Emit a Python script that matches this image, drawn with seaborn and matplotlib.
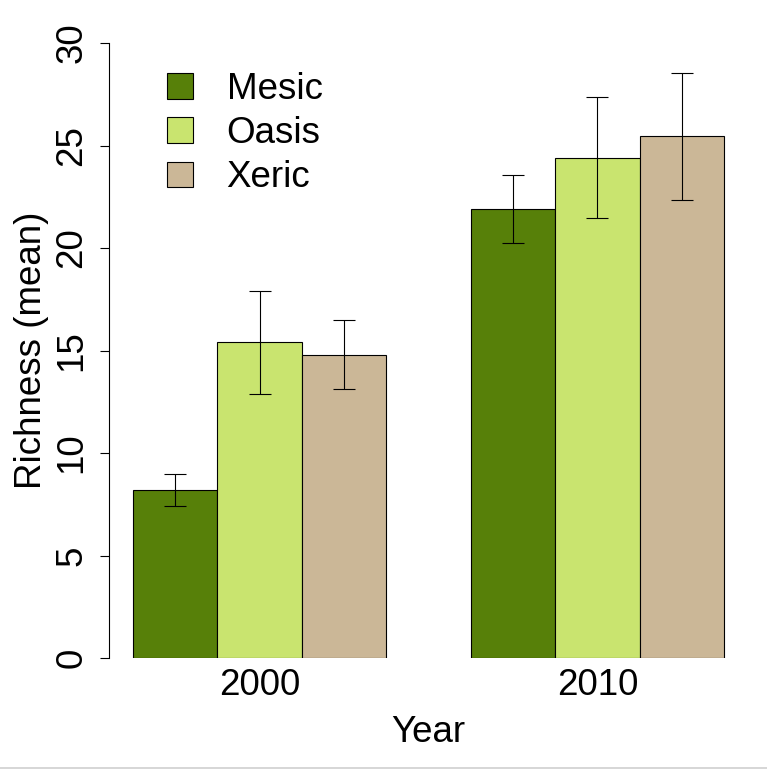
import numpy as np
import pandas as pd
import matplotlib
matplotlib.use("Agg")
import matplotlib.pyplot as plt
from matplotlib.patches import Patch
from matplotlib.lines import Line2D
import seaborn as sns

sns.set_style("white")
plt.rcParams['font.family'] = ['Liberation Sans', 'DejaVu Sans']
plt.rcParams['text.color'] = 'black'
plt.rcParams['axes.labelcolor'] = 'black'
plt.rcParams['xtick.color'] = 'black'
plt.rcParams['ytick.color'] = 'black'

years = ["2000", "2010"]
sites = ["Mesic", "Oasis", "Xeric"]
mean_2000 = [8.2, 15.4, 14.8]
mean_2010 = [21.9, 24.4, 25.45]
se_2000 = [0.78, 2.5, 1.7]
se_2010 = [1.68, 2.95, 3.1]
site_colors = ["#578009", "#C9E46F", "#CBB797"]

df = pd.DataFrame({
    "year": [years[0]] * 3 + [years[1]] * 3,
    "site": sites * 2,
    "richness": mean_2000 + mean_2010,
    "se": se_2000 + se_2010,
})

fs = 26.5
fig = plt.figure(figsize=(7.67, 7.69), dpi=100)
ax = fig.add_axes([0.14264, 0.14434, 0.83207, 0.83973])

sns.barplot(data=df, x="year", y="richness", hue="site", order=years,
            hue_order=sites, palette=dict(zip(sites, site_colors)),
            saturation=1, width=0.75, gap=0, errorbar=None,
            edgecolor="black", linewidth=0.8, legend=False, ax=ax)

# error bars on top of each bar
for site, cont in zip(sites, ax.containers):
    sub = df[df.site == site].set_index("year").loc[years]
    xs = [b.get_x() + b.get_width() / 2 for b in cont]
    ax.errorbar(xs, sub.richness, yerr=sub.se, fmt="none", ecolor="black",
                elinewidth=0.8, capsize=8, capthick=0.8)

ax.set_xlim(-0.445, 1.445)
ax.set_ylim(0, 31.5)
ax.set_yticks(range(0, 31, 5))
for s in ["top", "right", "bottom"]:
    ax.spines[s].set_visible(False)
ax.spines["left"].set_bounds(0, 30)
ax.spines["left"].set_color("black")
ax.spines["left"].set_linewidth(0.8)
ax.tick_params(axis="y", length=6.5, width=0.8, color="black", pad=8,
               labelsize=fs, left=True)
for lab in ax.get_yticklabels():
    lab.set_rotation(90)
    lab.set_va("center")
ax.tick_params(axis="x", length=0, pad=7, labelsize=fs)
ax.set_xlabel("Year", fontsize=fs, labelpad=8.5)
ax.set_ylabel("Richness (mean)", fontsize=fs)
# centre the y label on the 0-30 axis line, not on the whole axes box
ax.yaxis.set_label_coords(-0.0947, 15 / 31.5)

handles = [Patch(facecolor=c, edgecolor="black", linewidth=0.8) for c in site_colors]
ax.legend(handles, sites, loc="upper left", bbox_to_anchor=(167 / 767, 1 - 72 / 769),
          bbox_transform=fig.transFigure, frameon=False, fontsize=fs,
          handlelength=0.7, handleheight=0.7, handletextpad=0.92,
          labelspacing=0.25, borderpad=0, borderaxespad=0)

fig.add_artist(Line2D([0, 1], [0.6 / 769, 0.6 / 769], color="#d0d0d0", linewidth=1.2))

fig.savefig("out.png", dpi=100)
